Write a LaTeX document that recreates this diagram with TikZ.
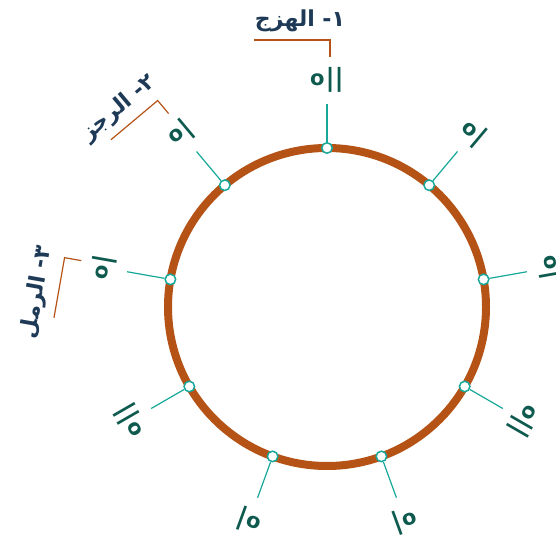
\documentclass[tikz,border=0pt]{standalone}
\usepackage{fontspec}
\setmainfont{DejaVu Sans}
\newfontfamily\arabicfont[Script=Arabic]{DejaVu Sans}
\newfontfamily\symfont{DejaVu Sans}
\TeXXeTstate=1
\definecolor{ringc}{HTML}{B55316}
\definecolor{tealc}{HTML}{17A89A}
\definecolor{symc}{HTML}{0F5A4F}
\definecolor{arabc}{HTML}{1E3A56}
\newcommand\symo{\raisebox{1.5pt}{\fontsize{21}{21}\selectfont o}\kern1pt}
\begin{document}
\begin{tikzpicture}[x=1pt,y=1pt,
  dotnode/.style={circle, draw=tealc, fill=white, line width=1.5pt, inner sep=0pt, minimum size=10.5pt},
  conn/.style={draw=tealc, line width=1.2pt},
  sym/.style={text=symc, font=\symfont\bfseries\fontsize{25}{25}\selectfont, inner sep=0pt},
  arab/.style={text=arabc, font=\arabicfont\bfseries\fontsize{22}{24}\selectfont, inner sep=0pt},
  brk/.style={draw=ringc, line width=1.2pt},
  ringline/.style={draw=ringc, line width=8pt}]
\useasboundingbox (0,0) rectangle (556,538);
\begin{scope}[shift={(327,231)}]
  \draw[ringline] (0,0) circle (159);
  \foreach \a/\s [count=\i] in {90/\symo||, 50/\symo|, 10/\symo|, -30/\symo||, -70/\symo|, -110/\symo|, -150/\symo||, 170/\symo|, 130/\symo|}{
    \node[dotnode] (p\i) at (\a:159pt) {};
    \coordinate (q\i) at (\a:203pt);
    \draw[conn] (p\i) -- (q\i);
    \node[sym, rotate=\a-90] (s\i) at (\a:227pt) {\s};
  }
  % bracket labels
  \begin{scope}[rotate=0]
    \draw[brk] (-73,267) -- (3,267) -- (3,250);
    \node[arab] (l1) at (-27,286) {\beginR ١- الهزج\endR};
  \end{scope}
  \begin{scope}[rotate=40]
    \draw[brk] (-58,267) -- (3,267) -- (3,250);
    \node[arab, rotate=40] (l2) at (-32,286) {\beginR ٢- الرجز\endR};
  \end{scope}
  \begin{scope}[rotate=80]
    \draw[brk] (-58,267) -- (3,267) -- (3,250);
    \node[arab, rotate=80] (l3) at (-36,288) {\beginR ٣- الرمل\endR};
  \end{scope}
\end{scope}
\end{tikzpicture}
\end{document}
